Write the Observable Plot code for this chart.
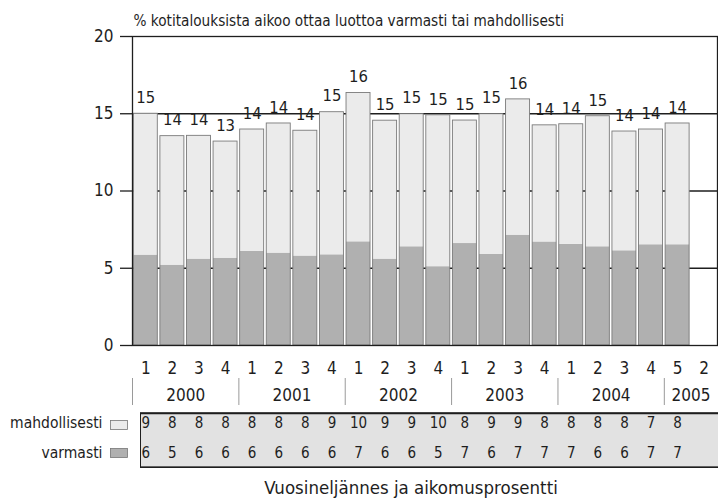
<!DOCTYPE html>
<html>
<head>
<meta charset="utf-8">
<script src="https://cdn.jsdelivr.net/npm/d3@7"></script>
<script src="https://cdn.jsdelivr.net/npm/@observablehq/plot@0.6"></script>
<style>
  body { margin: 0; background: #fff; }
  svg text { font-stretch: condensed; }
</style>
</head>
<body>
<div id="chart"></div>
<script>
// Quarterly survey: share of households planning to take a loan
const title = "% kotitalouksista aikoo ottaa luottoa varmasti tai mahdollisesti";
const footer = "Vuosineljännes ja aikomusprosentti";
const seriesNames = ["mahdollisesti", "varmasti"];
const years = ["2000", "2001", "2002", "2003", "2004", "2005"];
const yearSlots = [4, 4, 4, 4, 4, 2];
const quarterLabels = ["1","2","3","4","1","2","3","4","1","2","3","4","1","2","3","4","1","2","3","4","5","2"];
const yTicks = [0, 5, 10, 15, 20];

// Percent of households, one value per quarter (2000 Q1 ... 2005 Q1)
const varmasti = [5.85, 5.2, 5.59, 5.65, 6.1, 5.98, 5.79, 5.87, 6.71, 5.59, 6.39, 5.1, 6.6, 5.89, 7.14, 6.7, 6.55, 6.39, 6.13, 6.52, 6.52];
const mahdollisesti = [9.15, 8.35, 7.98, 7.55, 7.88, 8.39, 8.11, 9.23, 9.63, 8.96, 8.58, 9.8, 7.96, 9.08, 8.79, 7.55, 7.77, 8.45, 7.72, 7.46, 7.85];

const FONT = "'DejaVu Sans Condensed', 'DejaVu Sans', sans-serif";
const C_SURE = "#b0b0b0";
const C_MAYBE = "#ebebeb";
const C_TABLE = "#e2e2e2";
const INK = "#1e1e1e";

// Derived tables
const totals = varmasti.map((v, i) => ({slot: i, total: v + mahdollisesti[i]}));
const segments = varmasti.flatMap((v, i) => [
  {slot: i, series: "varmasti", y1: 0, y2: v},
  {slot: i, series: "mahdollisesti", y1: v, y2: v + mahdollisesti[i]}
]);
const quarters = quarterLabels.map((q, i) => ({slot: i, label: q}));
let start = 0;
const yearRows = years.map((y, i) => {
  const row = {year: y, start, span: yearSlots[i]};
  start += yearSlots[i];
  return row;
});
const nSlots = quarterLabels.length;
const maybeRow = mahdollisesti.map((v, i) => ({slot: i, v}));
const sureRow = varmasti.map((v, i) => ({slot: i, v}));

const BAR_INSET = 1.3;
const below = {frameAnchor: "bottom", lineAnchor: "middle", fill: INK};

const chart = Plot.plot({
  width: 718,
  height: 501,
  marginLeft: 132,
  marginRight: 1,
  marginTop: 36,
  marginBottom: 156,
  style: {fontFamily: FONT, color: INK, background: "#fff"},
  x: {domain: [0, nSlots], axis: null},
  y: {domain: [0, 20], axis: null},
  color: {domain: seriesNames, range: [C_MAYBE, C_SURE]},
  marks: [
    // horizontal grid lines behind the bars
    Plot.ruleY([5, 10, 15], {stroke: INK, strokeWidth: 1.3}),
    // stacked bars
    Plot.rect(segments, {
      x1: d => d.slot, x2: d => d.slot + 1, y1: "y1", y2: "y2",
      fill: "series", insetLeft: BAR_INSET, insetRight: BAR_INSET
    }),
    Plot.rect(totals, {
      x1: d => d.slot, x2: d => d.slot + 1, y1: 0, y2: "total",
      fill: "none", stroke: "#7a7a7a", strokeWidth: 0.9,
      insetLeft: BAR_INSET, insetRight: BAR_INSET
    }),
    // value labels above the bars
    Plot.text(totals, {
      x: d => d.slot + 0.5, y: "total", text: d => String(Math.round(d.total)),
      dy: -16, fontSize: 16.5, fill: INK
    }),
    // plot frame and y axis
    Plot.frame({stroke: INK, strokeWidth: 1.3}),
    Plot.axisY({ticks: yTicks, tickSize: 12, tickPadding: 7, fontSize: 17, stroke: INK, strokeWidth: 1.3}),
    // title
    Plot.text([title], {frameAnchor: "top-left", lineAnchor: "middle", dx: 1, dy: -15, textAnchor: "start", fontSize: 15.2, fill: INK}),
    // quarter labels
    Plot.text(quarters, {...below, x: d => d.slot + 0.5, text: "label", dy: 23, fontSize: 17}),
    // year labels and separators
    Plot.ruleX(yearRows, {x: "start", stroke: "#9a9a9a", strokeWidth: 1, insetTop: 342, insetBottom: -60}),
    Plot.text(yearRows, {...below, x: d => d.start + d.span / 2, text: "year", dy: 50, fontSize: 17}),
    // value table
    Plot.frame({fill: C_TABLE, stroke: INK, strokeWidth: 1, insetLeft: 8, insetRight: -3, insetTop: 376.7, insetBottom: -121.7}),
    Plot.ruleY([0], {dy: 67.7, insetLeft: 8, insetRight: -3, stroke: INK, strokeWidth: 2}),
    Plot.ruleY([0], {dy: 121.7, insetLeft: 8, insetRight: -3, stroke: INK, strokeWidth: 1.5}),
    Plot.text(maybeRow, {...below, x: d => d.slot + 0.5, text: d => String(Math.round(d.v)), dy: 77.5, fontSize: 15}),
    Plot.text(sureRow, {...below, x: d => d.slot + 0.5, text: d => String(Math.round(d.v)), dy: 107.5, fontSize: 15}),
    // row legend
    Plot.text([seriesNames[0]], {...below, frameAnchor: "bottom-left", dx: -30, dy: 77.5, textAnchor: "end", fontSize: 15.5}),
    Plot.text([seriesNames[1]], {...below, frameAnchor: "bottom-left", dx: -30, dy: 107.5, textAnchor: "end", fontSize: 15.5}),
    Plot.frame({fill: C_MAYBE, stroke: "#777", strokeWidth: 0.8, insetLeft: -22, insetRight: 590, insetTop: 384, insetBottom: -84}),
    Plot.frame({fill: C_SURE, stroke: "#777", strokeWidth: 0.8, insetLeft: -22, insetRight: 590, insetTop: 412, insetBottom: -112}),
    // footer
    Plot.text([footer], {...below, dx: -14, dy: 143, fontSize: 18.5})
  ]
});

document.getElementById("chart").append(chart);
</script>
</body>
</html>
